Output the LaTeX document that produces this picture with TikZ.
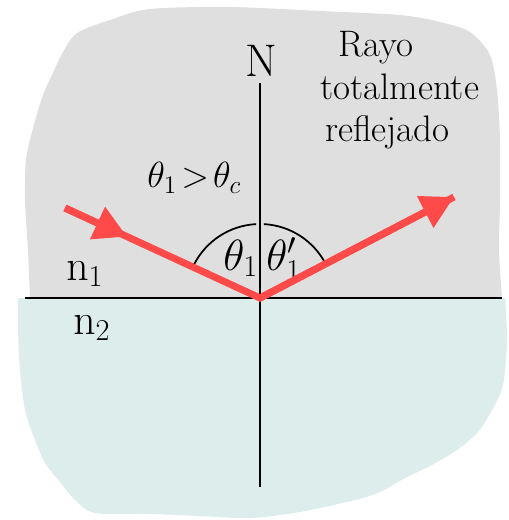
\documentclass[tikz,border=0pt]{standalone}
\usepackage{amsmath}
\usepackage{xcolor}
\usepackage{tikz}
\usetikzlibrary{positioning,arrows.meta,calc}
\definecolor{rayred}{RGB}{255,74,74}
\definecolor{airgray}{RGB}{223,223,223}
\definecolor{glasscyan}{RGB}{220,237,235}

\begin{document}
\begin{tikzpicture}[x=0.02cm, y=-0.02cm,
  ray/.style={draw=rayred, line width=4pt},
  tip/.style={-{Triangle[length=6.5mm, width=6.8mm]}},
  axis/.style={draw=black, line width=1.6pt},
  lbl/.style={inner sep=0pt, anchor=base west, font=\fontsize{21}{25}\selectfont},
  ang/.style={draw=black, line width=1pt}]
\useasboundingbox (0,0) rectangle (509,520);
% the two media
\fill[airgray] plot[smooth] coordinates {(30,298) (28,250) (25,200) (26,160) (33,128) (43,95) (52,75) (63,52) (77,33) (110,20) (150,9) (230,7) (320,11) (400,15) (440,22) (470,32) (490,55) (497,90) (500,140) (500,200) (499,250) (502,298)} -- cycle;
\fill[glasscyan] plot[smooth] coordinates {(505,298) (507,340) (503,385) (492,410) (478,432) (457,450) (430,466) (405,478) (380,492) (355,500) (300,512) (250,518) (200,516) (150,514) (95,513) (75,500) (60,482) (45,463) (35,440) (25,410) (20,370) (18,330) (18,298)} -- cycle;
\coordinate (O) at (260,298);
\coordinate (L) at (25,298);
\coordinate (R) at (502,298);
\coordinate (Ntop) at (260,83);
\coordinate (Nbot) at (260,487);
\coordinate (A) at (65,208);
\coordinate (B) at (454,197);
\coordinate (M) at ($(A)!0.318!(O)$);
\draw[axis] (L) -- (R);
\draw[axis] (Ntop) -- (Nbot);
\node[inner sep=0pt, anchor=base, font=\fontsize{26}{30}\selectfont] (N) at (261,77) {N};
% angles
\draw[ang] ($(O)+(153:1.48cm)$) arc[start angle=153, end angle=93, radius=1.48cm];
\draw[ang] ($(O)+(87:1.48cm)$) arc[start angle=87, end angle=27, radius=1.48cm];
\node[lbl, font=\fontsize{24}{28}\selectfont] (t1) at (223,270) {$\theta_1$};
\node[lbl, font=\fontsize{24}{28}\selectfont] (t1r) at (266,270) {$\theta_1'$};
\node[lbl, font=\fontsize{20}{24}\selectfont] (cond) at (147,188) {$\theta_1\!>\!\theta_c$};
% rays
\draw[ray] (A) -- (O) -- (B);
\draw[ray, tip] (A) -- (M);
\draw[ray, tip] (O) -- (B);
% labels
\node[lbl] (rayo) at (338,57) {Rayo};
\node[lbl] (total) at (320,100) {totalmente};
\node[lbl] (refl) at (325,142) {reflejado};
\node[lbl, font=\fontsize{25}{29}\selectfont] (n1) at (66,280) {$\mathrm{n}_1$};
\node[lbl, font=\fontsize{25}{29}\selectfont] (n2) at (73,334) {$\mathrm{n}_2$};
\end{tikzpicture}
\end{document}
